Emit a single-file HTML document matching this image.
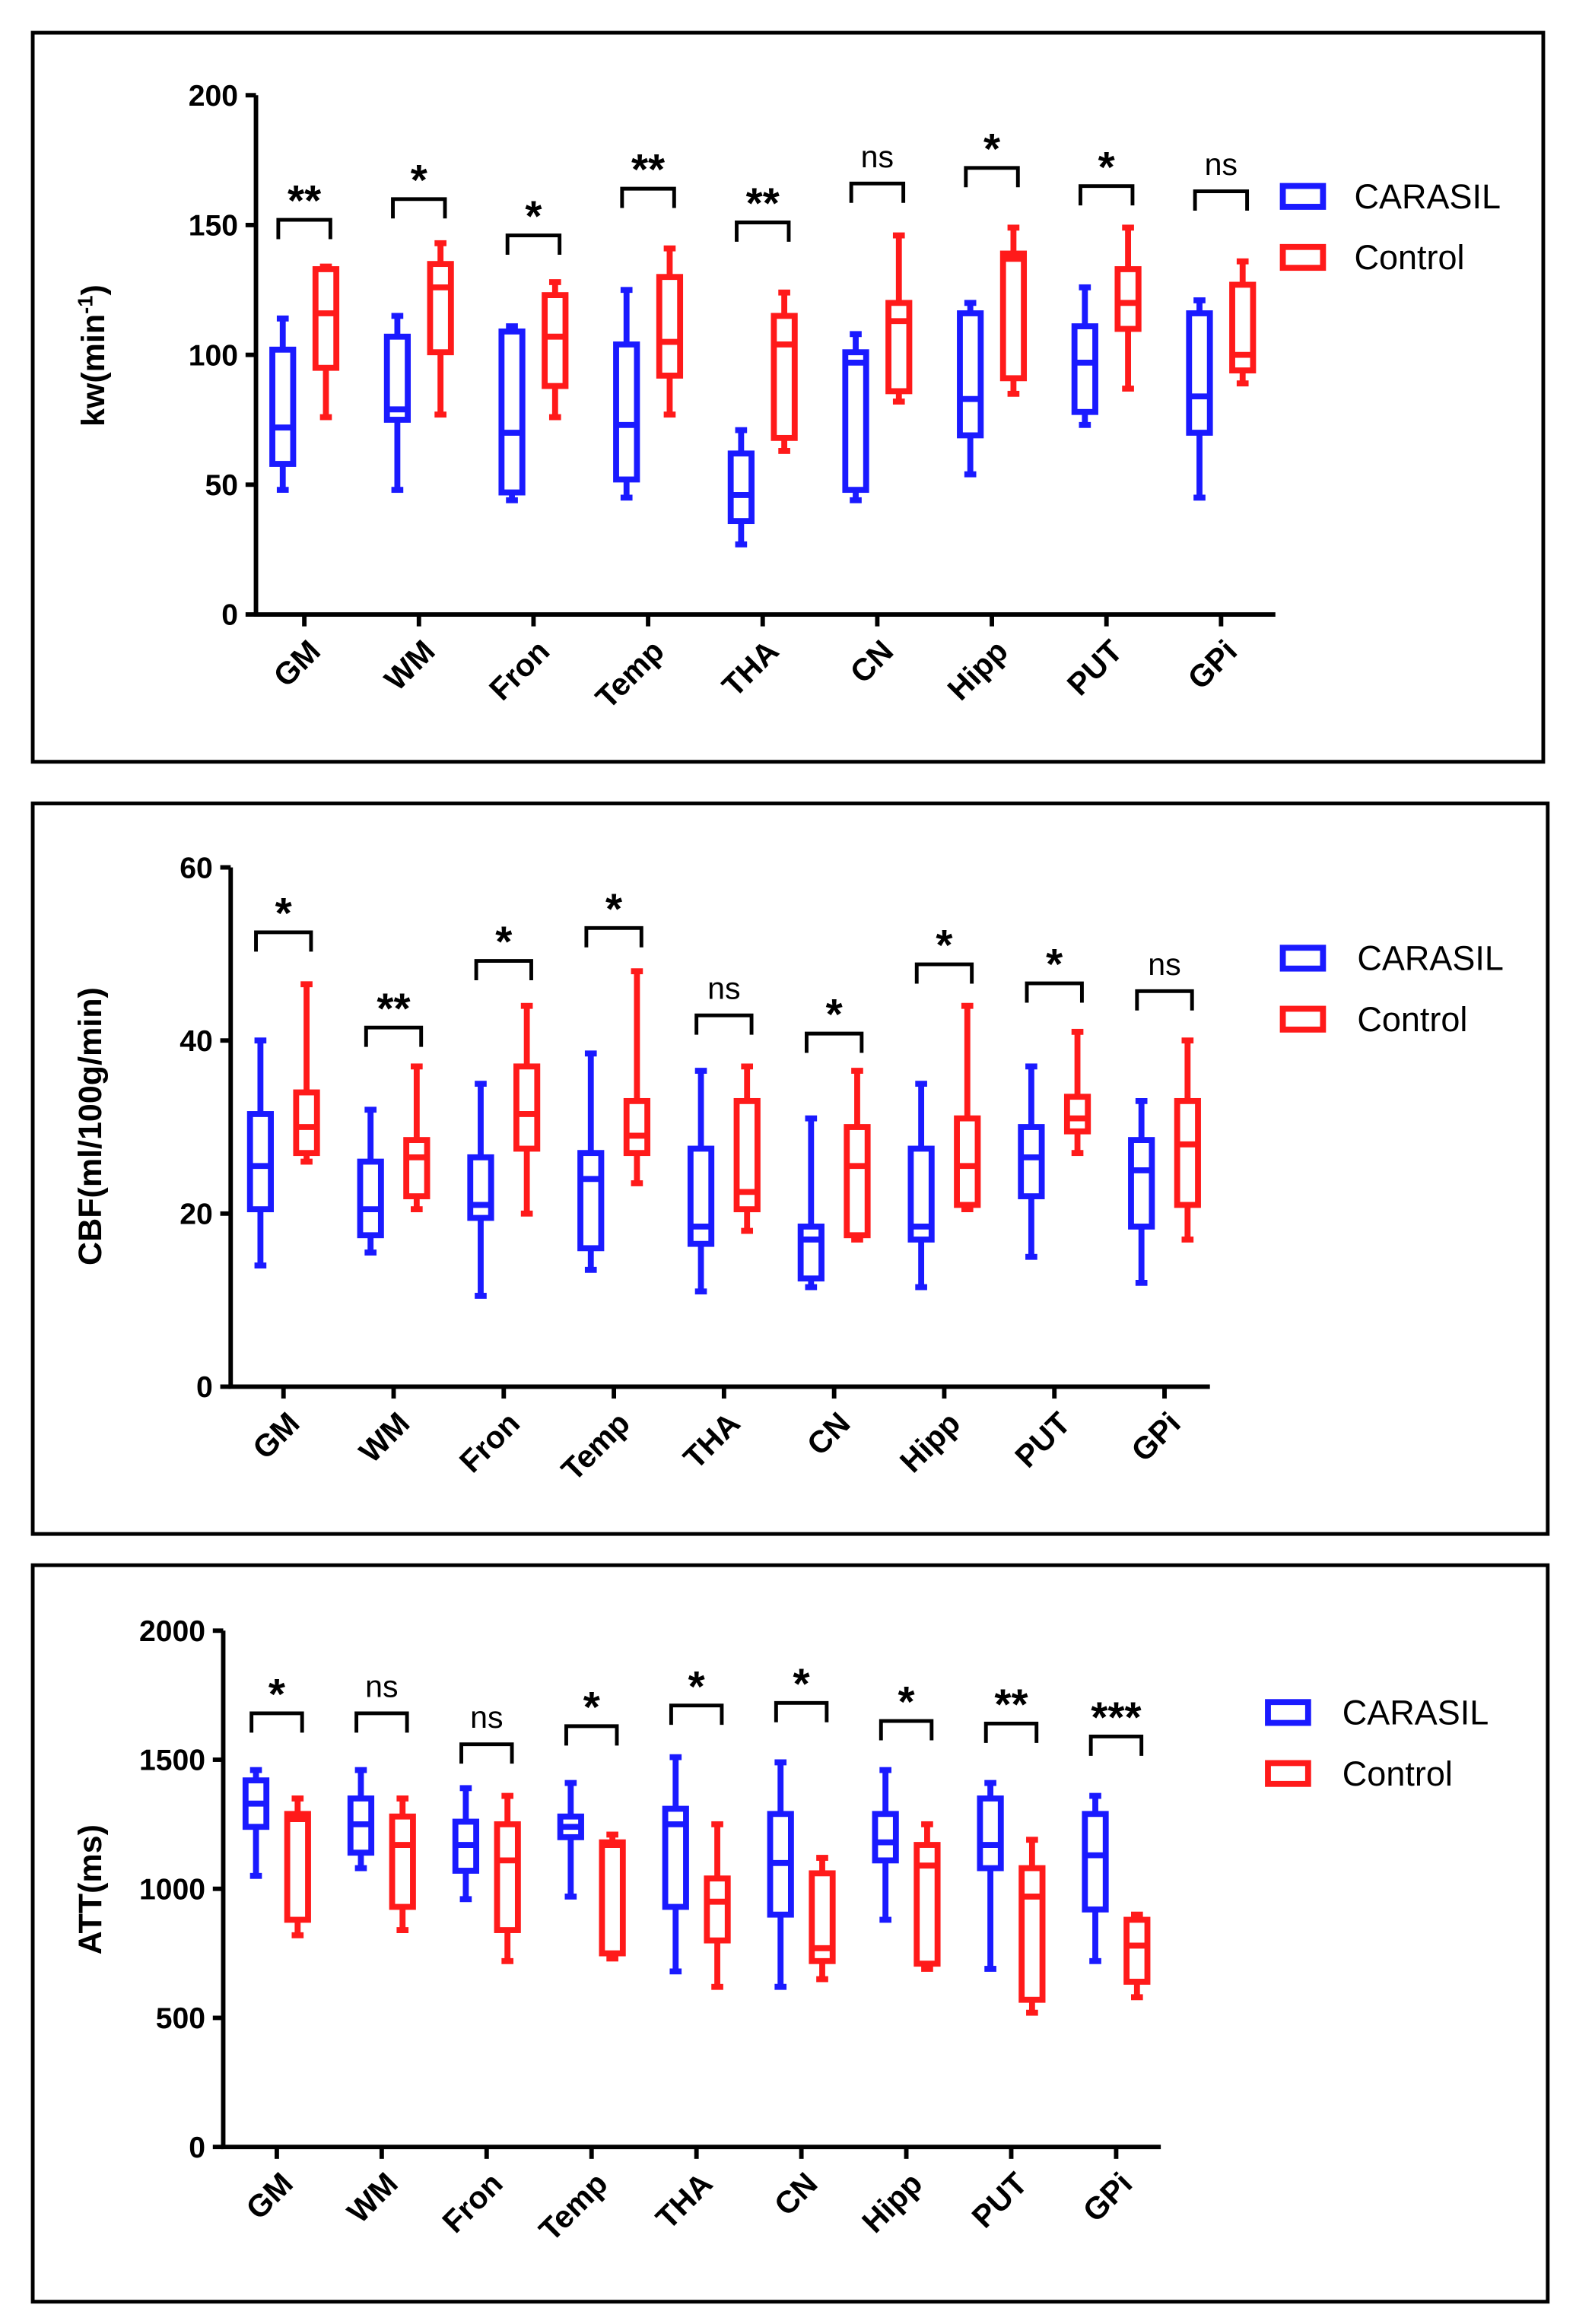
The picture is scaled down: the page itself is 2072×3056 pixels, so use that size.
<!DOCTYPE html>
<html><head><meta charset="utf-8"><style>
html,body{margin:0;padding:0;background:#fff;}
svg{display:block;font-family:"Liberation Sans",Arial,sans-serif;}
</style></head><body>
<svg id="chart" width="2072" height="3056" viewBox="0 0 1059 1562" preserveAspectRatio="none" xmlns="http://www.w3.org/2000/svg"></svg>
<script>
const categories=["GM","WM","Fron","Temp","THA","CN","Hipp","PUT","GPi"];
// [min,q1,median,q3,max]
const kwBlue=[[48,58,72,102,114],[48,75,79,107,115],[44,47,70,109,111],[45,52,73,104,125],[27,36,46,62,71],[44,48,97,101,108],[54,69,83,116,120],[73,78,97,111,126],[45,70,84,116,121]];
const kwRed=[[76,95,116,133,134],[77,101,126,135,143],[76,88,107,123,128],[77,92,105,130,141],[63,68,104,115,124],[82,86,113,120,146],[85,91,137,139,149],[87,110,120,133,149],[89,94,100,127,136]];
const kwSig=["**","*","*","**","**","ns","*","*","ns"];
const kwBracket=[152,160,146,164,151,166,172,165,163];
const cbfBlue=[[14,20.5,25.5,31.5,40],[15.5,17.5,20.5,26,32],[10.5,19.5,21,26.5,35],[13.5,16,24,27,38.5],[11,16.5,18.5,27.5,36.5],[11.5,12.5,17,18.5,31],[11.5,17,18.5,27.5,35],[15,22,26.5,30,37],[12,18.5,25,28.5,33]];
const cbfRed=[[26,27,30,34,46.5],[20.5,22,26.5,28.5,37],[20,27.5,31.5,37,44],[23.5,27,29,33,48],[18,20.5,22.5,33,37],[17,17.5,25.5,30,36.5],[20.5,21,25.5,31,44],[27,29.5,31,33.5,41],[17,21,28,33,40]];
const cbfSig=["*","**","*","*","ns","*","*","*","ns"];
const cbfBracket=[52.5,41.5,49.2,53,42.9,40.8,48.8,46.6,45.7];
const attBlue=[[1050,1240,1330,1420,1460],[1080,1140,1250,1350,1460],[960,1070,1170,1260,1390],[970,1200,1240,1280,1410],[680,930,1250,1310,1510],[620,900,1100,1290,1490],[880,1110,1180,1290,1460],[690,1080,1170,1350,1410],[720,920,1130,1290,1360]];
const attRed=[[820,880,1270,1290,1350],[840,930,1170,1280,1350],[720,840,1110,1250,1360],[730,750,1170,1180,1210],[620,800,950,1040,1250],[650,720,770,1060,1120],[690,710,1090,1170,1250],[520,570,970,1080,1190],[580,640,780,880,900]];
const attSig=["*","ns","ns","*","*","*","*","**","***"];
const attBracket=[1680,1680,1560,1630,1710,1720,1650,1640,1590];

const NS="http://www.w3.org/2000/svg";
const svg=document.getElementById("chart");
function mk(tag,attrs,parent){const e=document.createElementNS(NS,tag);for(const k in attrs)e.setAttribute(k,attrs[k]);(parent||svg).appendChild(e);return e;}

const panels=[
 {id:"kw",frame:[22,22,1015,490],x0:172,x1:857,y0:413,ymax:200,ypix:349,ticks:[0,50,100,150,200],bx:190,dx:77,off:29,title:"kw(min",sup:"-1",titleY:239,titleX:70,blue:kwBlue,red:kwRed,sig:kwSig,br:kwBracket,leg:[862,132,910]},
 {id:"cbf",frame:[22,540,1018,491],x0:155,x1:813,y0:932,ymax:60,ypix:349,ticks:[0,20,40,60],bx:175,dx:74,off:31,title:"CBF(ml/100g/min)",titleY:757,titleX:68,blue:cbfBlue,red:cbfRed,sig:cbfSig,br:cbfBracket,leg:[862,644,912]},
 {id:"att",frame:[22,1052,1018,495],x0:150,x1:780,y0:1443,ymax:2000,ypix:347,ticks:[0,500,1000,1500,2000],bx:172,dx:70.5,off:28,title:"ATT(ms)",titleY:1270,titleX:68,blue:attBlue,red:attRed,sig:attSig,br:attBracket,leg:[852,1151,902]}
];

panels.forEach(p=>{
 const g=mk("g",{});
 
 
 const fr=mk("rect",{x:p.frame[0],y:p.frame[1],width:p.frame[2],height:p.frame[3],fill:"none",stroke:"#000","stroke-width":2.5},g);
 
 
 const y=v=>p.y0-v/p.ymax*p.ypix;
 const ax=mk("path",{d:`M${p.x0},${y(p.ymax)} L${p.x0},${p.y0} L${p.x1},${p.y0}`,fill:"none",stroke:"#000","stroke-width":3},g);
 
 
 p.ticks.forEach(t=>{
  mk("line",{x1:p.x0-7,x2:p.x0,y1:y(t),y2:y(t),stroke:"#000","stroke-width":3},g);
  const tl=mk("text",{x:p.x0-12,y:y(t)+7,"text-anchor":"end","font-size":20,"font-weight":"bold"},g);
  tl.textContent=t;
  
  
 });
 const tt=mk("text",{transform:`translate(${p.titleX},${p.titleY}) rotate(-90)`,"text-anchor":"middle","font-size":22,"font-weight":"bold"},g);
 tt.textContent=p.title;
 if(p.sup){const s=mk("tspan",{"font-size":14,dy:-8},tt);s.textContent=p.sup;const s2=mk("tspan",{dy:8},tt);s2.textContent=")";}
 
 
 categories.forEach((c,i)=>{
  const bxc=p.bx+p.dx*i, rxc=bxc+p.off, mid=(bxc+rxc)/2;
  mk("line",{x1:mid,x2:mid,y1:p.y0,y2:p.y0+8,stroke:"#000","stroke-width":3},g);
  const xl=mk("text",{transform:`translate(${mid+12},${p.y0+26}) rotate(-45)`,"text-anchor":"end","font-size":21,"font-weight":"bold"},g);
  xl.textContent=c;
  
  
  [[p.blue[i],bxc,"#1a1aff","blue"],[p.red[i],rxc,"#ff1a1a","red"]].forEach(([v,cx,col,nm])=>{
   const b=mk("g",{stroke:col,"stroke-width":4,fill:"none"},g);
   
   
   const w=7;
   mk("line",{x1:cx,x2:cx,y1:y(v[0]),y2:y(v[1])},b);
   mk("line",{x1:cx,x2:cx,y1:y(v[3]),y2:y(v[4])},b);
   mk("line",{x1:cx-4,x2:cx+4,y1:y(v[0]),y2:y(v[0])},b);
   mk("line",{x1:cx-4,x2:cx+4,y1:y(v[4]),y2:y(v[4])},b);
   mk("rect",{x:cx-w,y:y(v[3]),width:2*w,height:y(v[1])-y(v[3])},b);
   mk("line",{x1:cx-w,x2:cx+w,y1:y(v[2]),y2:y(v[2])},b);
  });
  const by=y(p.br[i]);
  const br=mk("path",{d:`M${bxc-3},${by+13} L${bxc-3},${by} L${rxc+3},${by} L${rxc+3},${by+13}`,fill:"none",stroke:"#000","stroke-width":2.5},g);
  
  
  const isNs=p.sig[i]==="ns";
  const sl=mk("text",{x:mid,y:isNs?by-11:by-3,"text-anchor":"middle","font-size":isNs?21:29,"font-weight":isNs?"normal":"bold"},g);
  sl.textContent=p.sig[i];
  
  
 });
 [["CARASIL","#1a1aff",0],["Control","#ff1a1a",41]].forEach(([lab,col,dy])=>{
  const lg=mk("g",{},g);
  
  
  mk("rect",{x:p.leg[0],y:p.leg[1]-7+dy,width:27,height:14,fill:"none",stroke:col,"stroke-width":4},lg);
  const t=mk("text",{x:p.leg[2],y:p.leg[1]+8+dy,"font-size":23},lg);
  t.textContent=lab;
 });
});
</script>
</body></html>
